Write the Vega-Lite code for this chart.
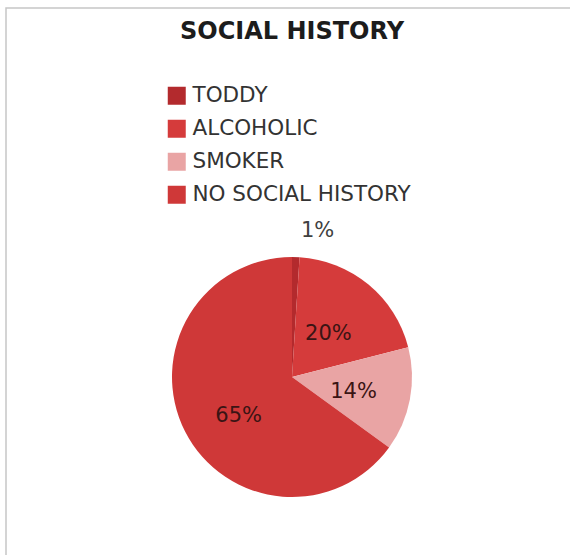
{
  "$schema": "https://vega.github.io/schema/vega-lite/v6.json",
  "width": 572,
  "height": 738,
  "autosize": {"type": "none"},
  "padding": {"left": 6, "top": 8, "right": -8, "bottom": -191},
  "background": "white",
  "view": {"stroke": "#c6c6c6", "strokeWidth": 1.5, "fill": "white"},
  "config": {
    "font": "DejaVu Sans"
  },
  "title": {
    "text": "SOCIAL HISTORY",
    "orient": "top",
    "anchor": "middle",
    "offset": -36,
    "font": "DejaVu Sans",
    "fontSize": 24,
    "fontWeight": "bold",
    "color": "#1c1c1c"
  },
  "data": {
    "values": [
      {"category": "TODDY", "value": 1, "idx": 1},
      {"category": "ALCOHOLIC", "value": 20, "idx": 2},
      {"category": "SMOKER", "value": 14, "idx": 3},
      {"category": "NO SOCIAL HISTORY", "value": 65, "idx": 4}
    ]
  },
  "encoding": {
    "theta": {"field": "value", "type": "quantitative", "stack": true},
    "order": {"field": "idx", "type": "quantitative"}
  },
  "layer": [
    {
      "mark": {"type": "arc", "outerRadius": 120, "stroke": null},
      "encoding": {
        "color": {
          "field": "category",
          "type": "nominal",
          "sort": ["TODDY", "ALCOHOLIC", "SMOKER", "NO SOCIAL HISTORY"],
          "scale": {
            "domain": ["TODDY", "ALCOHOLIC", "SMOKER", "NO SOCIAL HISTORY"],
            "range": ["#b32a2d", "#d53b3b", "#e9a4a4", "#cf3838"]
          },
          "legend": {
            "title": null,
            "orient": "none",
            "legendX": 160,
            "legendY": 77,
            "symbolType": "square",
            "symbolSize": 324,
            "symbolStrokeWidth": 0,
            "labelFontSize": 21.5,
            "labelFont": "DejaVu Sans",
            "labelColor": "#333333",
            "labelOffset": 5,
            "rowPadding": 10,
            "labelLimit": 400
          }
        }
      }
    },
    {
      "mark": {"type": "text", "radius": 62, "dy": 7, "fontSize": 21, "font": "DejaVu Sans", "color": "#3a1414"},
      "encoding": {
        "text": {"field": "label", "type": "nominal"}
      },
      "transform": [
        {"filter": "datum.value >= 5"},
        {"calculate": "datum.value + '%'", "as": "label"}
      ]
    },
    {
      "mark": {"type": "text", "radius": 146, "dx": 21, "fontSize": 21, "font": "DejaVu Sans", "color": "#404040"},
      "encoding": {
        "text": {"field": "label", "type": "nominal"}
      },
      "transform": [
        {"filter": "datum.value < 5"},
        {"calculate": "datum.value + '%'", "as": "label"}
      ]
    }
  ]
}
